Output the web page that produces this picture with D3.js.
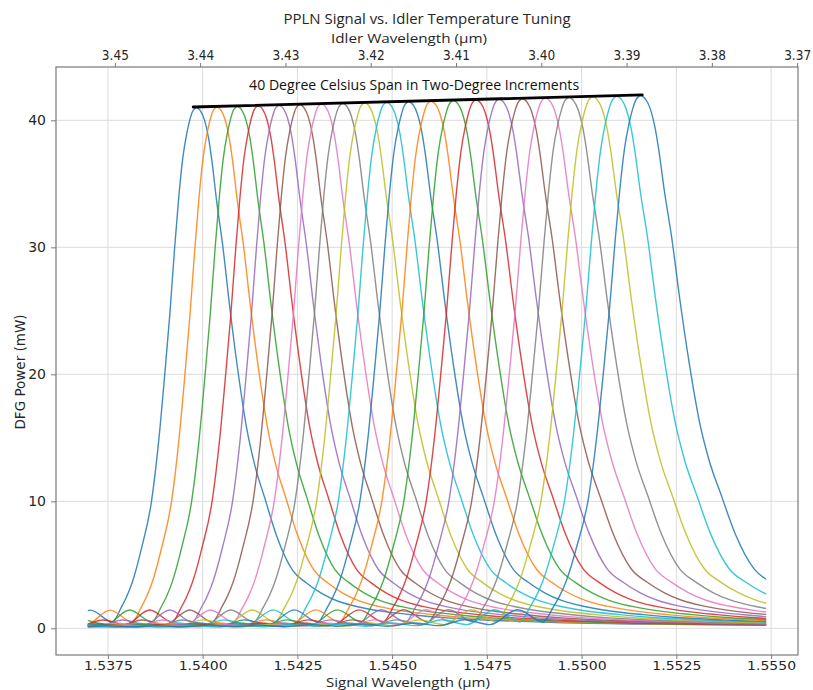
<!DOCTYPE html>
<html>
<head>
<meta charset="utf-8">
<script src="https://cdn.jsdelivr.net/npm/d3@7"></script>
<style>
  html, body { margin: 0; padding: 0; background: #ffffff; }
  svg { display: block; }
</style>
</head>
<body>
<script>
// ---------------- DATA ----------------
// Bottom axis ticks: signal wavelength (µm)
const signalTicks = [1.5375, 1.5400, 1.5425, 1.5450, 1.5475, 1.5500, 1.5525, 1.5550];
// Top axis ticks: idler wavelength (µm)
const idlerTicks = [3.45, 3.44, 3.43, 3.42, 3.41, 3.40, 3.39, 3.38, 3.37];
// Y ticks: DFG power (mW)
const powerTicks = [0, 10, 20, 30, 40];

// Measured wavelength span of every trace (µm)
const signalStart = 1.53697;
const signalEnd = 1.55487;

// 21 temperature settings (40 °C span in 2 °C steps): peak signal wavelength (µm)
const peakWavelengths = [
  1.53984, 1.54038, 1.54092, 1.54147, 1.54202, 1.54257, 1.54314,
  1.54370, 1.54428, 1.54486, 1.54544, 1.54603, 1.54662, 1.54722,
  1.54783, 1.54844, 1.54905, 1.54967, 1.55030, 1.55093, 1.55156
];
// peak DFG power (mW)
const peakPowers = [
  41.00, 41.05, 41.10, 41.15, 41.19, 41.24, 41.29,
  41.34, 41.38, 41.43, 41.48, 41.52, 41.57, 41.62,
  41.67, 41.71, 41.76, 41.81, 41.86, 41.90, 41.95
];
// relative width of each tuning curve: rising (short-wavelength) side and falling side
const widthLeft = [
  1.000, 1.008, 1.016, 1.024, 1.032, 1.040, 1.048,
  1.056, 1.064, 1.072, 1.080, 1.088, 1.096, 1.104,
  1.112, 1.120, 1.128, 1.136, 1.144, 1.152, 1.160
];
const widthRight = [
  1.000, 1.009, 1.018, 1.027, 1.036, 1.045, 1.054,
  1.063, 1.072, 1.081, 1.090, 1.099, 1.108, 1.117,
  1.126, 1.135, 1.144, 1.153, 1.162, 1.171, 1.180
];

// Tuning-curve profile: offset from the peak (µm) and power / peak power
const profileOffsets = [
  -0.01505, -0.01447, -0.01389, -0.01331, -0.01272, -0.01214, -0.01156, -0.01098,
  -0.01040, -0.00982, -0.00924, -0.00866, -0.00808, -0.00750, -0.00692, -0.00634,
  -0.00576, -0.00517, -0.00459, -0.00401, -0.00343, -0.00280, -0.00222, -0.00211,
  -0.00201, -0.00185, -0.00169, -0.00145, -0.00119, -0.00100, -0.00084, -0.00071,
  -0.00058, -0.00048, -0.00037, -0.00026, -0.00018, -0.00011, -0.00005, 0,
  0.00005, 0.00011, 0.00021, 0.00032, 0.00040, 0.00053, 0.00069, 0.00087,
  0.00108, 0.00132, 0.00153, 0.00180, 0.00211, 0.00253, 0.00290, 0.00330,
  0.00370, 0.00422, 0.00488, 0.00568, 0.00660, 0.00792, 0.00950, 0.01188,
  0.01478, 0.01690
];
const profileLevels = [
  0.003, 0.004, 0.003, 0.005, 0.003, 0.005, 0.003, 0.005,
  0.003, 0.006, 0.003, 0.006, 0.003, 0.007, 0.004, 0.008,
  0.004, 0.010, 0.005, 0.016, 0.007, 0.035, 0.012, 0.022,
  0.037, 0.060, 0.090, 0.155, 0.244, 0.360, 0.488, 0.600,
  0.730, 0.820, 0.900, 0.950, 0.976, 0.992, 0.998, 1.000,
  0.998, 0.993, 0.976, 0.940, 0.900, 0.820, 0.735, 0.620,
  0.500, 0.385, 0.315, 0.250, 0.178, 0.112, 0.087, 0.067,
  0.053, 0.042, 0.033, 0.026, 0.020, 0.015, 0.011, 0.008,
  0.006, 0.005
];

// Black peak envelope line
const envelopeWavelengths = [1.53975, 1.55160];
const envelopePowers = [41.05, 42.00];

const traceColors = ["#1f77b4", "#ff7f0e", "#2ca02c", "#d62728", "#9467bd",
                     "#8c564b", "#e377c2", "#7f7f7f", "#bcbd22", "#17becf"];

// ---------------- CHART ----------------
const W = 813, H = 690;
const M = { left: 56, right: 798, top: 67, bottom: 655 };

const svg = d3.select("body").append("svg").attr("width", W).attr("height", H);

const x = d3.scaleLinear().domain([1.53613, 1.55571]).range([M.left, M.right]);
const xTop = d3.scaleLinear().domain([3.4569, 3.3699]).range([M.left, M.right]);
const y = d3.scaleLinear().domain([-2.1, 44.2]).range([M.bottom, M.top]);

const gridColor = "#dcdcdc";
const g = svg.append("g");

// grid
g.append("g").selectAll("line").data(signalTicks).join("line")
  .attr("x1", d => x(d)).attr("x2", d => x(d))
  .attr("y1", M.top).attr("y2", M.bottom)
  .attr("stroke", gridColor).attr("stroke-width", 1);
g.append("g").selectAll("line").data(powerTicks).join("line")
  .attr("x1", M.left).attr("x2", M.right)
  .attr("y1", d => y(d)).attr("y2", d => y(d))
  .attr("stroke", gridColor).attr("stroke-width", 1);

// traces
svg.append("clipPath").attr("id", "dataspan").append("rect")
  .attr("x", x(signalStart)).attr("y", M.top)
  .attr("width", x(signalEnd) - x(signalStart)).attr("height", M.bottom - M.top);

const line = d3.line().x(d => x(d[0])).y(d => y(d[1])).curve(d3.curveMonotoneX);

const traces = peakWavelengths.map((p, i) =>
  profileOffsets.map((o, j) => [p + o * (o < 0 ? widthLeft[i] : widthRight[i]),
                                profileLevels[j] * peakPowers[i]]));

g.append("g").attr("clip-path", "url(#dataspan)")
  .selectAll("path").data(traces).join("path")
  .attr("d", line)
  .attr("fill", "none")
  .attr("stroke", (d, i) => traceColors[i % 10])
  .attr("stroke-width", 1.4)
  .attr("stroke-opacity", 0.85);

// envelope line
g.append("path")
  .datum(envelopeWavelengths.map((w, i) => [w, envelopePowers[i]]))
  .attr("d", d3.line().x(d => x(d[0])).y(d => y(d[1])))
  .attr("fill", "none").attr("stroke", "#000").attr("stroke-width", 2.8)
  .attr("stroke-linecap", "round");

// frame
g.append("rect").attr("x", M.left).attr("y", M.top)
  .attr("width", M.right - M.left).attr("height", M.bottom - M.top)
  .attr("fill", "none").attr("stroke", "#7a7a7a").attr("stroke-width", 1.2);

const tickFont = "'DejaVu Sans', sans-serif";
const labelFont = "'Open Sans', 'Noto Sans', sans-serif";
const textColor = "#262626";

// bottom axis
const axB = g.append("g").attr("transform", `translate(0,${M.bottom})`)
  .call(d3.axisBottom(x).tickValues(signalTicks).tickFormat(d3.format(".4f")).tickSizeOuter(0).tickSize(4).tickPadding(2));
axB.select(".domain").remove();
axB.selectAll("line").attr("stroke", "#7a7a7a");
axB.selectAll("text").attr("font-family", tickFont).attr("font-size", 13)
  .attr("fill", textColor).attr("textLength", 49).attr("lengthAdjust", "spacingAndGlyphs");

// top axis
const axT = g.append("g").attr("transform", `translate(0,${M.top})`)
  .call(d3.axisTop(xTop).tickValues(idlerTicks).tickFormat(d3.format(".2f")).tickSizeOuter(0).tickSize(4).tickPadding(3));
axT.select(".domain").remove();
axT.selectAll("line").attr("stroke", "#7a7a7a");
axT.selectAll("text").attr("font-family", tickFont).attr("font-size", 13.5)
  .attr("fill", textColor).attr("textLength", 27).attr("lengthAdjust", "spacingAndGlyphs");

// left axis
const axL = g.append("g").attr("transform", `translate(${M.left},0)`)
  .call(d3.axisLeft(y).tickValues(powerTicks).tickFormat(d3.format("d")).tickSizeOuter(0).tickSize(5).tickPadding(5));
axL.select(".domain").remove();
axL.selectAll("line").attr("stroke", "#7a7a7a");
axL.selectAll("text").attr("font-family", tickFont).attr("font-size", 14).attr("fill", textColor);

// labels
svg.append("text").attr("x", 427).attr("y", 23.5).attr("text-anchor", "middle")
  .attr("font-family", labelFont).attr("font-size", 14).attr("fill", textColor)
  .attr("textLength", 287).attr("lengthAdjust", "spacingAndGlyphs")
  .text("PPLN Signal vs. Idler Temperature Tuning");

svg.append("text").attr("x", 409).attr("y", 43).attr("text-anchor", "middle")
  .attr("font-family", labelFont).attr("font-size", 13.5).attr("fill", textColor)
  .attr("textLength", 156).attr("lengthAdjust", "spacingAndGlyphs")
  .text("Idler Wavelength (µm)");

svg.append("text").attr("x", 408).attr("y", 686.5).attr("text-anchor", "middle")
  .attr("font-family", labelFont).attr("font-size", 13.5).attr("fill", textColor)
  .attr("textLength", 164).attr("lengthAdjust", "spacingAndGlyphs")
  .text("Signal Wavelength (µm)");

svg.append("text").attr("transform", `translate(25,${372}) rotate(-90)`)
  .attr("text-anchor", "middle")
  .attr("font-family", tickFont).attr("font-size", 13.5).attr("fill", textColor)
  .text("DFG Power (mW)");

svg.append("text").attr("x", x(1.54558)).attr("y", y(42.35)).attr("text-anchor", "middle")
  .attr("font-family", labelFont).attr("font-size", 14).attr("fill", "#111")
  .attr("textLength", 330).attr("lengthAdjust", "spacingAndGlyphs")
  .text("40 Degree Celsius Span in Two-Degree Increments");
</script>
</body>
</html>
